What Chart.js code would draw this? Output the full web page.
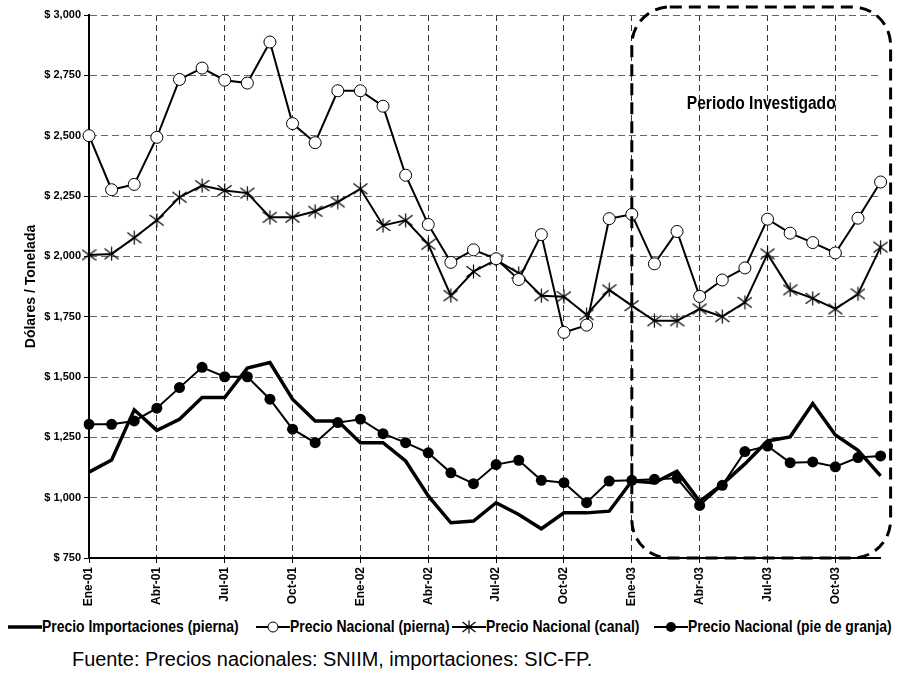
<!DOCTYPE html>
<html lang="es">
<head>
  <meta charset="UTF-8" />
  <title>Precios de pierna de cerdo</title>
  <script src="https://cdn.jsdelivr.net/npm/chart.js"></script>
  <style>
    html, body { margin: 0; padding: 0; background: #fff; }
    body {
      width: 899px; height: 675px; position: relative; overflow: hidden;
      font-family: "Liberation Sans", Arial, sans-serif;
    }
    #wrap { position: absolute; left: 0; top: 0; width: 899px; height: 615px; }
    #chartLegend {
      position: absolute; left: 0; top: 617px; width: 899px; height: 20px;
      font-weight: bold; font-size: 17px; line-height: 20px; white-space: nowrap;
    }
    .legend-item { position: absolute; top: 0; height: 20px; display: flex; align-items: center; }
    .legend-item span { display: inline-block; transform: scaleX(0.82); transform-origin: left center; }
    #source { position: absolute; left: 72px; top: 650px; font-size: 19.9px; line-height: 1; white-space: nowrap; }
  </style>
</head>
<body>
  <div id="wrap"><canvas id="myChart"></canvas></div>
  <div id="chartLegend"></div>
  <div id="source">Fuente: Precios nacionales: SNIIM, importaciones: SIC-FP.</div>

  <script>
    // months Ene-01 .. Dic-03
    const months = [
      "Ene-01","Feb-01","Mar-01","Abr-01","May-01","Jun-01","Jul-01","Ago-01","Sep-01","Oct-01","Nov-01","Dic-01",
      "Ene-02","Feb-02","Mar-02","Abr-02","May-02","Jun-02","Jul-02","Ago-02","Sep-02","Oct-02","Nov-02","Dic-02",
      "Ene-03","Feb-03","Mar-03","Abr-03","May-03","Jun-03","Jul-03","Ago-03","Sep-03","Oct-03","Nov-03","Dic-03"
    ];

    // dollars per tonne
    const importaciones = [1106,1156,1364,1279,1325,1415,1415,1537,1560,1408,1318,1318,
                           1228,1228,1152,1007,896,903,979,930,871,937,937,944,
                           1069,1062,1110,985,1055,1140,1235,1252,1390,1260,1196,1090];
    const nacPierna = [2500,2276,2298,2493,2733,2780,2730,2718,2888,2550,2471,2686,
                       2686,2622,2336,2132,1975,2027,1990,1904,2090,1685,1715,2156,
                       2174,1969,2103,1834,1902,1952,2154,2096,2057,2014,2158,2308];
    const nacCanal = [2006,2010,2077,2149,2245,2293,2273,2262,2162,2162,2187,2225,
                      2280,2128,2149,2050,1837,1937,1985,1930,1837,1833,1758,1861,
                      1796,1733,1733,1782,1750,1809,2010,1861,1826,1782,1844,2038];
    const pieGranja = [1304,1304,1318,1371,1456,1540,1501,1501,1408,1284,1228,1311,
                       1325,1265,1228,1186,1103,1058,1137,1155,1072,1062,979,1069,
                       1072,1076,1080,968,1051,1191,1214,1145,1148,1128,1166,1173];

    const yMin = 750, yMax = 3000, yStep = 250;
    const periodStart = "Ene-03";
    const periodLabel = "Periodo Investigado";

    const SANS = '"Liberation Sans", Arial, sans-serif';

    // six-armed asterisk marker
    function makeAsterisk(size) {
      const c = document.createElement("canvas");
      c.width = size; c.height = size;
      const g = c.getContext("2d");
      const m = size / 2, r = size / 2 - 0.5;
      g.strokeStyle = "#000";
      g.lineWidth = 1.2;
      g.beginPath();
      g.moveTo(m, m - r); g.lineTo(m, m + r);
      g.moveTo(m - r, m - r * 0.75); g.lineTo(m + r, m + r * 0.75);
      g.moveTo(m - r, m + r * 0.75); g.lineTo(m + r, m - r * 0.75);
      g.stroke();
      return c;
    }
    const asterisk = makeAsterisk(15);

    const datasets = [
      {
        label: "Precio Importaciones (pierna)",
        data: importaciones,
        borderColor: "#000", backgroundColor: "#000",
        borderWidth: 3.5, pointRadius: 0, marker: "none"
      },
      {
        label: "Precio Nacional (pierna)",
        data: nacPierna,
        borderColor: "#000", backgroundColor: "#fff",
        borderWidth: 2, pointRadius: 6, pointBorderWidth: 1,
        pointBorderColor: "#000", pointBackgroundColor: "#fff", marker: "open"
      },
      {
        label: "Precio Nacional (canal)",
        data: nacCanal,
        borderColor: "#000", backgroundColor: "#000",
        borderWidth: 2, pointStyle: asterisk, pointRadius: 7, marker: "star"
      },
      {
        label: "Precio Nacional (pie de granja)",
        data: pieGranja,
        borderColor: "#000", backgroundColor: "#000",
        borderWidth: 2, pointRadius: 5.5, pointBorderWidth: 0,
        pointBackgroundColor: "#000", marker: "filled"
      }
    ];

    // dashed rounded frame around the investigated period
    const periodBox = {
      id: "periodBox",
      afterDatasetsDraw(chart) {
        const { ctx, chartArea, scales: { x, y } } = chart;
        const left = x.getPixelForValue(months.indexOf(periodStart));
        const right = chartArea.right + 10;
        const top = y.getPixelForValue(yMax) - 8;
        const bottom = chartArea.bottom;
        const r = 38;
        ctx.save();
        ctx.strokeStyle = "#000";
        ctx.lineWidth = 3;
        ctx.setLineDash([12, 7]);
        ctx.beginPath();
        ctx.moveTo(left + r, top);
        ctx.lineTo(right - r, top);
        ctx.arcTo(right, top, right, top + r, r);
        ctx.lineTo(right, bottom - r);
        ctx.arcTo(right, bottom, right - r, bottom, r);
        ctx.lineTo(left + r, bottom);
        ctx.arcTo(left, bottom, left, bottom - r, r);
        ctx.lineTo(left, top + r);
        ctx.arcTo(left, top, left + r, top, r);
        ctx.closePath();
        ctx.stroke();
        ctx.setLineDash([]);
        // label, squeezed a little to look condensed
        ctx.translate((left + right) / 2, top + 97);
        ctx.scale(0.82, 1);
        ctx.fillStyle = "#000";
        ctx.font = "bold 19px " + SANS;
        ctx.textAlign = "center";
        ctx.textBaseline = "middle";
        ctx.fillText(periodLabel, 0, 0);
        ctx.restore();
      }
    };

    const ctx = document.getElementById("myChart").getContext("2d");
    const chart = new Chart(ctx, {
      type: "line",
      data: { labels: months, datasets },
      plugins: [periodBox],
      options: {
        responsive: true,
        maintainAspectRatio: false,
        animation: false,
        layout: { padding: { left: 0, right: 16, top: 15, bottom: 0 } },
        elements: { line: { tension: 0 } },
        plugins: {
          legend: { display: false },
          tooltip: { enabled: false }
        },
        scales: {
          x: {
            offset: false,
            afterFit: (s) => { s.height = 57; },
            grid: {
              color: (c) => (c.index % 3 === 0 ? "#333" : "rgba(0,0,0,0)"),
              tickColor: (c) => (c.index % 3 === 0 ? "#000" : "rgba(0,0,0,0)"),
              tickLength: 5,
              tickBorderDash: []
            },
            border: { color: "#000", width: 2, dash: [6, 4] },
            ticks: {
              autoSkip: false,
              minRotation: 90,
              maxRotation: 90,
              padding: 4,
              color: "#000",
              font: { family: SANS, size: 12, weight: "bold" },
              callback: (v, i) => (i % 3 === 0 ? months[i] : "")
            }
          },
          y: {
            min: yMin,
            max: yMax,
            afterFit: (s) => { s.width = 89; },
            grid: { color: "#666", tickColor: "#000", tickLength: 5, tickBorderDash: [] },
            border: { color: "#000", width: 2, dash: [7, 4] },
            ticks: {
              stepSize: yStep,
              padding: 3,
              color: "#000",
              font: { family: SANS, size: 11, weight: "bold" },
              callback: (v) => "$ " + v.toLocaleString("en-US")
            },
            title: {
              display: true,
              text: "Dólares / Tonelada",
              color: "#000",
              font: { family: SANS, size: 14, weight: "bold" },
              padding: { top: 23, bottom: 0 }
            }
          }
        }
      }
    });

    // custom legend built from the datasets
    const legendLeft = [8, 256, 452, 654];
    function markerSvg(ds) {
      let s = '<svg width="34" height="14" viewBox="0 0 34 14">';
      s += '<line x1="0" y1="7" x2="34" y2="7" stroke="#000" stroke-width="' + ds.borderWidth + '"/>';
      if (ds.marker === "open") s += '<circle cx="17" cy="7" r="5" fill="#fff" stroke="#000" stroke-width="1"/>';
      if (ds.marker === "filled") s += '<circle cx="17" cy="7" r="5" fill="#000"/>';
      if (ds.marker === "star") s += '<path d="M17 0.5V13.5M10.5 2L23.5 12M10.5 12L23.5 2" stroke="#000" stroke-width="1.2" fill="none"/>';
      return s + "</svg>";
    }
    const legendEl = document.getElementById("chartLegend");
    datasets.forEach((ds, i) => {
      const item = document.createElement("div");
      item.className = "legend-item";
      item.style.left = legendLeft[i] + "px";
      item.innerHTML = markerSvg(ds) + "<span>" + ds.label + "</span>";
      legendEl.appendChild(item);
    });
  </script>
</body>
</html>
